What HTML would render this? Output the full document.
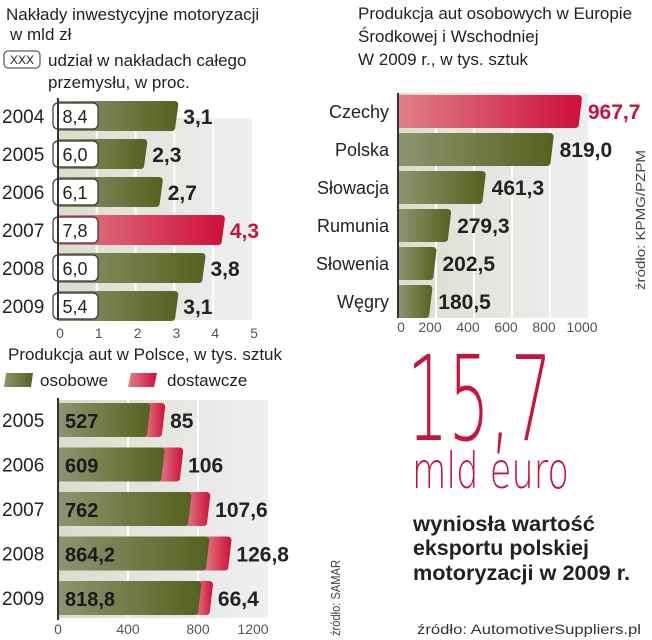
<!DOCTYPE html>
<html><head><meta charset="utf-8"><style>
body{margin:0;background:#fff;}
svg{display:block;font-family:"Liberation Sans",sans-serif;}
.thin{font-family:"DejaVu Sans ExtraLight","DejaVu Sans","Liberation Sans",sans-serif;font-weight:200;}
</style></head><body>
<svg id="s" width="652" height="640" viewBox="0 0 652 640">
<defs>
<linearGradient id="gG" x1="0" x2="1"><stop offset="0" stop-color="#8f9470"/><stop offset="1" stop-color="#55621f"/></linearGradient>
<linearGradient id="gR" x1="0" x2="1"><stop offset="0" stop-color="#e08088"/><stop offset="1" stop-color="#cf0f3a"/></linearGradient>
<linearGradient id="gBg" x1="0" x2="1"><stop offset="0" stop-color="#dcdccd"/><stop offset="1" stop-color="#eeeff2"/></linearGradient>
</defs>
<g fill="#222" font-size="17">
<text x="6" y="20">Nakłady inwestycyjne motoryzacji</text>
<text x="10" y="40">w mld zł</text>
<rect x="4" y="51" width="36" height="17" rx="4" fill="#fff" stroke="#333"/>
<text x="22" y="64" font-size="12" text-anchor="middle">XXX</text>
<text x="48" y="66">udział w nakładach całego</text>
<text x="48" y="88">przemysłu, w proc.</text>
<text x="358" y="19">Produkcja aut osobowych w Europie</text>
<text x="358" y="42">Środkowej i Wschodniej</text>
<text x="358" y="65">W 2009 r., w tys. sztuk</text>
<text x="8" y="360">Produkcja aut w Polsce, w tys. sztuk</text>
<path d="M6 373 H33 L31 387 H4 Z" fill="url(#gG)"/>
<text x="40" y="386">osobowe</text>
<path d="M131 373 H157 L154 387 H128 Z" fill="url(#gR)"/>
<text x="167" y="386">dostawcze</text>
</g>
<g id="c1"></g><g id="c2"></g><g id="c3"></g>
<text class="thin" x="407" y="440" font-size="118" fill="#c8123e" textLength="145" lengthAdjust="spacingAndGlyphs">15,7</text>
<text class="thin" x="412" y="488" font-size="50" fill="#c8123e" textLength="157" lengthAdjust="spacingAndGlyphs">mld euro</text>
<g font-size="21" font-weight="bold" fill="#222">
<text x="413" y="531" textLength="182" lengthAdjust="spacingAndGlyphs">wyniosła wartość</text>
<text x="413" y="555" textLength="176" lengthAdjust="spacingAndGlyphs">eksportu polskiej</text>
<text x="413" y="580" textLength="217" lengthAdjust="spacingAndGlyphs">motoryzacji w 2009 r.</text>
</g>
<text x="417" y="634" font-size="14" fill="#333" textLength="224" lengthAdjust="spacingAndGlyphs">źródło: AutomotiveSuppliers.pl</text>
<text transform="translate(645,290) rotate(-90)" font-size="13" fill="#444" textLength="140" lengthAdjust="spacingAndGlyphs">źródło: KPMG/PZPM</text>
<text transform="translate(340,636) rotate(-90)" font-size="13" fill="#444" textLength="76" lengthAdjust="spacingAndGlyphs">źródło: SAMAR</text>
</svg>
<script>
const years1=["2004","2005","2006","2007","2008","2009"];
const invest1=[3.1,2.3,2.7,4.3,3.8,3.1];
const share1=["8,4","6,0","6,1","7,8","6,0","5,4"];
const ticks1=[0,1,2,3,4,5];
const countries2=["Czechy","Polska","Słowacja","Rumunia","Słowenia","Węgry"];
const prod2=[967.7,819.0,461.3,279.3,202.5,180.5];
const ticks2=[0,200,400,600,800,1000];
const years3=["2005","2006","2007","2008","2009"];
const cars3=[527,609,762,864.2,818.8];
const vans3=[85,106,107.6,126.8,66.4];
const ticks3=[0,400,800,1200];
const NS="http://www.w3.org/2000/svg";
function mk(p,t,a,txt){const e=document.createElementNS(NS,t);for(const k in a)e.setAttribute(k,a[k]);if(txt!==undefined)e.textContent=txt;p.appendChild(e);return e;}
function fmt(v,d){return v.toFixed(d).replace('.',',');}
function barPath(x0,x1,y,h){const r=4;return `M${x0} ${y} H${x1-r} Q${x1} ${y} ${x1} ${y+r} L${x1-3} ${y+h-r} Q${x1-3} ${y+h} ${x1-3-r} ${y+h} H${x0} Z`;}
// chart 1
(function(){
const g=document.getElementById('c1');
const x=v=>58+v*38.8, y=i=>116+i*38;
let e=mk(g,'rect',{x:58,y:118,width:194,height:202,fill:'url(#gBg)'});

ticks1.forEach(t=>{
 if(t>0&&t<5){e=mk(g,'line',{x1:x(t),x2:x(t),y1:98,y2:320,stroke:'#fff','stroke-width':2});}
 e=mk(g,'text',{x:x(t)+2,y:338,'font-size':14,fill:'#555','text-anchor':'middle'},String(t));
 
});
years1.forEach((yr,i)=>{
 const c=y(i),red=i===3;
 e=mk(g,'path',{d:barPath(58,x(invest1[i]),c-15,30),fill:red?'url(#gR)':'url(#gG)'});
 
 e=mk(g,'text',{x:2,y:c+7,'font-size':19,fill:'#222'},yr);
 
 e=mk(g,'rect',{x:53,y:c-13,width:45,height:26,rx:5,fill:'#fff',stroke:'#333','stroke-width':1.2});
 
 e=mk(g,'text',{x:75,y:c+7,'font-size':18,fill:'#222','text-anchor':'middle'},share1[i]);
 
 e=mk(g,'text',{x:x(invest1[i])+5,y:c+8,'font-size':21,'font-weight':'bold',fill:red?'#c8123e':'#222'},fmt(invest1[i],1));
 
});
e=mk(g,'line',{x1:58,x2:58,y1:98,y2:320,stroke:'#333','stroke-width':2});

})();
// chart 2
(function(){
const g=document.getElementById('c2');
const x=v=>398+v*0.19, y=i=>111+i*38;
let e=mk(g,'rect',{x:398,y:93,width:190,height:225,fill:'url(#gBg)'});

ticks2.forEach(t=>{
 if(t>0&&t<1000){e=mk(g,'line',{x1:x(t),x2:x(t),y1:93,y2:318,stroke:'#fff','stroke-width':2});}
 e=mk(g,'text',{x:x(t)+(t===0?3:-6),y:332,'font-size':14,fill:'#555','text-anchor':'middle'},String(t));
 
});
countries2.forEach((c,i)=>{
 const cy=y(i),red=i===0;
 e=mk(g,'path',{d:barPath(398,x(prod2[i]),cy-16,33),fill:red?'url(#gR)':'url(#gG)'});
 
 e=mk(g,'text',{x:389,y:cy+7,'font-size':18,fill:'#222','text-anchor':'end'},c);
 
 e=mk(g,'text',{x:x(prod2[i])+6,y:cy+8,'font-size':21,'font-weight':'bold',fill:red?'#c8123e':'#222'},fmt(prod2[i],1));
 
});
e=mk(g,'line',{x1:398,x2:398,y1:93,y2:318,stroke:'#333','stroke-width':2});

})();
// chart 3
(function(){
const g=document.getElementById('c3');
const x=v=>58+v*0.175, y=i=>420+i*44.5;
let e=mk(g,'rect',{x:58,y:400,width:210,height:218,fill:'url(#gBg)'});

ticks3.forEach(t=>{
 if(t>0&&t<1200){e=mk(g,'line',{x1:x(t),x2:x(t),y1:400,y2:618,stroke:'#fff','stroke-width':2});}
 e=mk(g,'text',{x:t===1200?253:x(t),y:634,'font-size':14,fill:'#555','text-anchor':'middle'},String(t));
 
});
years3.forEach((yr,i)=>{
 const c=y(i),xe=x(cars3[i]),xt=x(cars3[i]+vans3[i]);
 e=mk(g,'path',{d:barPath(xe-6,xt,c-17,34),fill:'url(#gR)'});
 
 e=mk(g,'path',{d:barPath(58,xe,c-17,34),fill:'url(#gG)'});
 
 e=mk(g,'text',{x:2,y:c+7,'font-size':19,fill:'#222'},yr);
 
 e=mk(g,'text',{x:65,y:c+8,'font-size':20,'font-weight':'bold',fill:'#1a1a1a'},String(cars3[i]).replace('.',','));
 
 e=mk(g,'text',{x:xt+5,y:c+8,'font-size':21,'font-weight':'bold',fill:'#222'},String(vans3[i]).replace('.',','));
 
});
e=mk(g,'line',{x1:58,x2:58,y1:398,y2:620,stroke:'#333','stroke-width':2});

})();
</script>
</body></html>
